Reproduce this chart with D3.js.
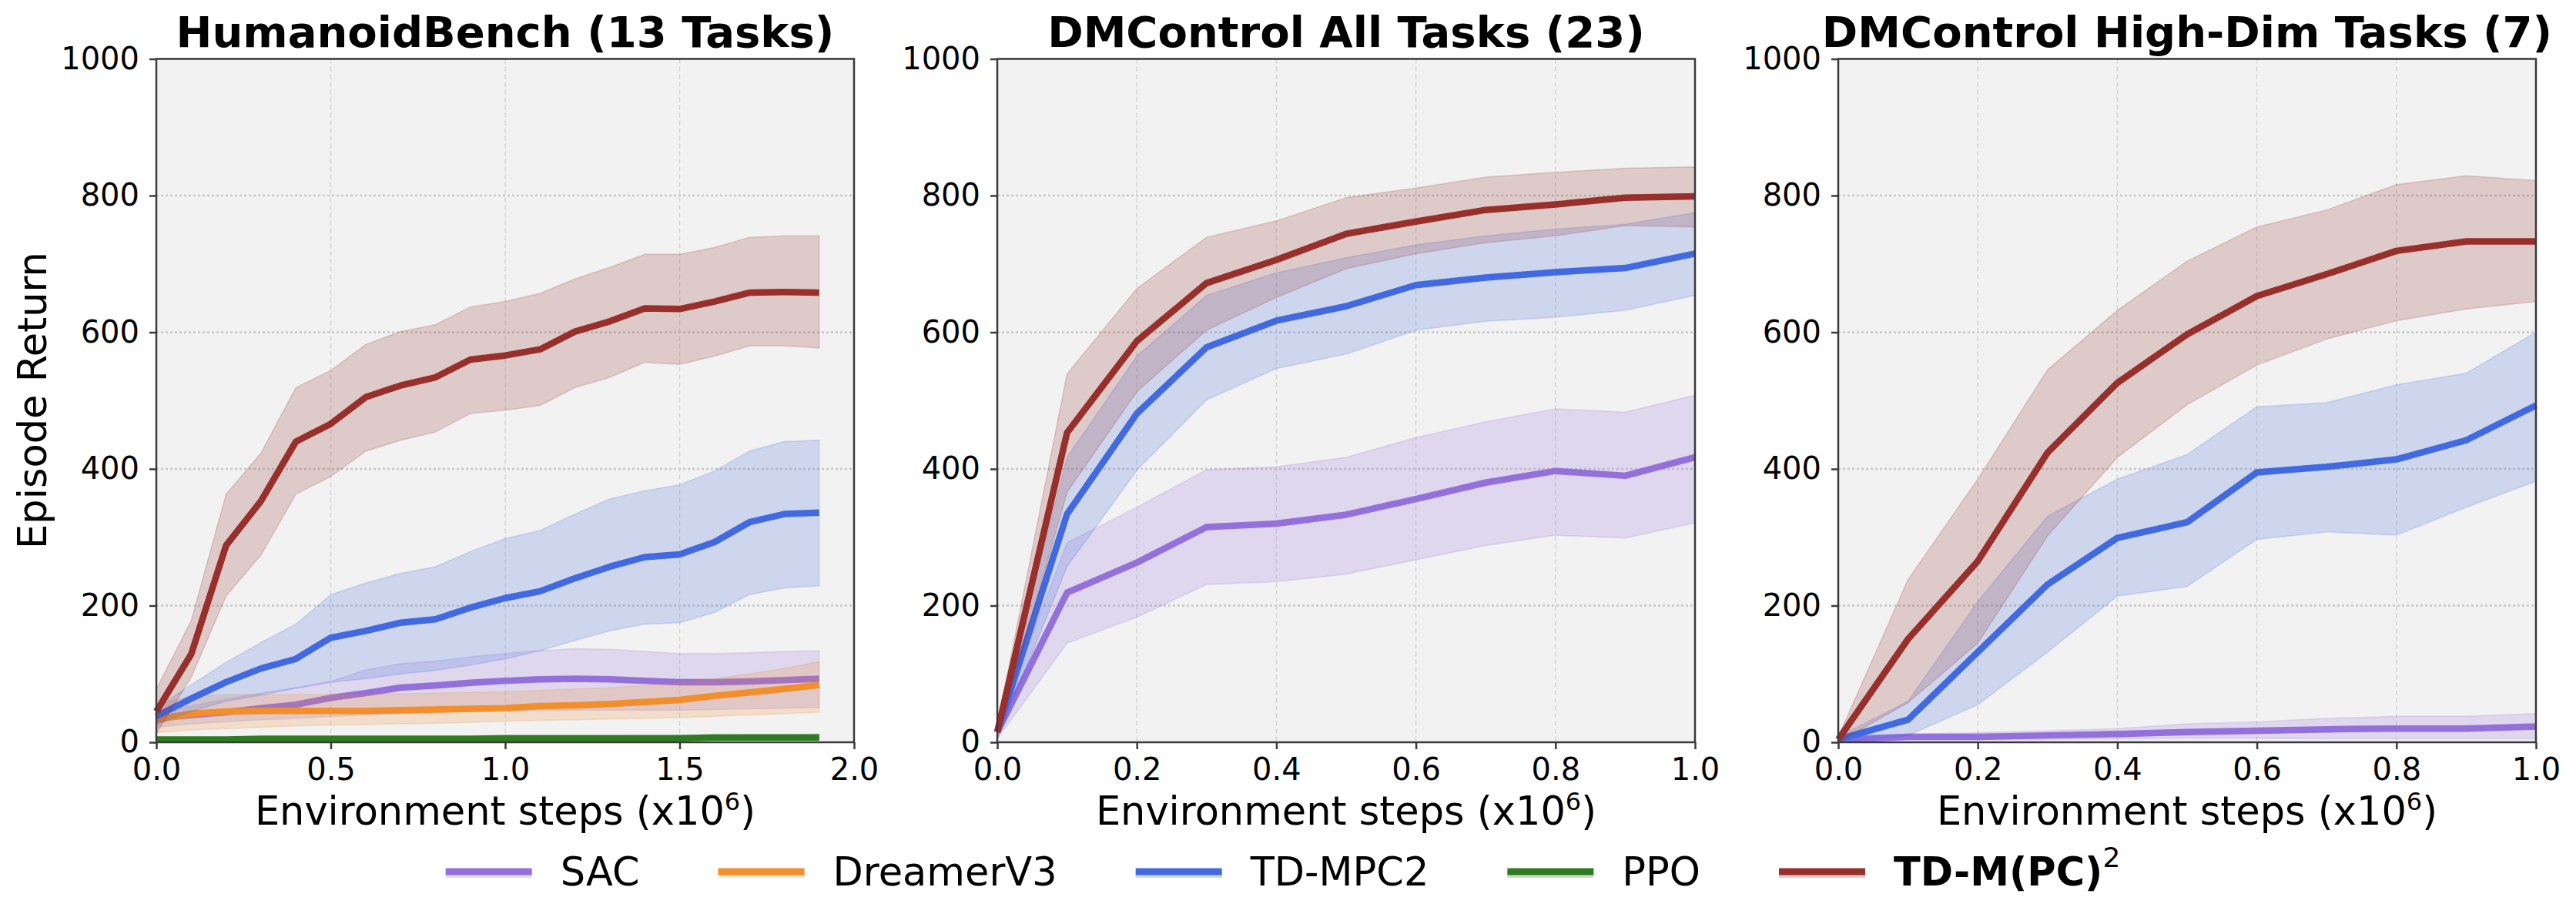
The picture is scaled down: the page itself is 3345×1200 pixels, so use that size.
<!DOCTYPE html>
<html>
<head>
<meta charset="utf-8">
<script src="https://cdn.jsdelivr.net/npm/d3@7"></script>
<style>
body { margin: 0; background: #fff; }
text { font-family: "DejaVu Sans", sans-serif; fill: #000; }
</style>
</head>
<body>
<svg id="chart" width="3345" height="1200"></svg>
<script>
// ---- HumanoidBench (13 tasks) ----
var hbSteps = [0, 0.1, 0.2, 0.3, 0.4, 0.5, 0.6, 0.7, 0.8, 0.9, 1.0, 1.1, 1.2, 1.3, 1.4, 1.5, 1.6, 1.7, 1.8, 1.9];
var hbSac     = [35, 40, 44, 50, 55, 65, 72, 80, 83, 87, 90, 92, 93, 92, 90, 88, 88, 89, 91, 93];
var hbSacHi   = [45, 53, 63, 72, 80, 89, 106, 115, 119, 125, 130, 134, 137, 136, 133, 130, 130, 131, 133, 134];
var hbSacLo   = [22, 27, 30, 33, 35, 38, 40, 42, 44, 45, 46, 47, 47, 47, 47, 47, 48, 49, 50, 51];
var hbDreamer   = [33, 42, 45, 46, 46, 46, 46, 47, 48, 49, 50, 53, 54, 56, 59, 62, 68, 73, 78, 84];
var hbDreamerHi = [55, 68, 70, 70, 70, 70, 70, 71, 72, 73, 74, 76, 78, 80, 83, 87, 93, 100, 108, 118];
var hbDreamerLo = [14, 18, 20, 22, 24, 25, 26, 27, 28, 29, 31, 32, 33, 34, 35, 36, 38, 40, 42, 44];
var hbTdmpc   = [38, 64, 88, 108, 122, 153, 163, 175, 180, 197, 211, 221, 240, 257, 271, 275, 293, 322, 334, 336];
var hbTdmpcHi = [50, 84, 117, 146, 173, 216, 233, 247, 257, 279, 298, 310, 334, 356, 368, 377, 397, 426, 440, 442];
var hbTdmpcLo = [26, 45, 60, 69, 79, 88, 93, 100, 105, 113, 122, 134, 149, 163, 173, 175, 190, 216, 226, 229];
var hbPpo   = [4, 4, 4, 5, 5, 5, 5, 5, 5, 5, 6, 6, 6, 6, 6, 6, 7, 7, 7, 7];
var hbPpoHi = [6, 6, 7, 7, 7, 7, 8, 8, 8, 8, 9, 9, 9, 9, 10, 10, 10, 11, 11, 12];
var hbPpoLo = [2, 2, 2, 2, 2, 3, 3, 3, 3, 3, 3, 3, 3, 3, 3, 3, 4, 4, 4, 4];
var hbOurs   = [45, 129, 288, 353, 440, 466, 505, 522, 534, 560, 566, 575, 601, 616, 635, 634, 645, 658, 659, 658];
var hbOursHi = [78, 178, 363, 423, 519, 544, 582, 601, 611, 637, 645, 657, 678, 695, 714, 714, 724, 739, 741, 741];
var hbOursLo = [13, 95, 214, 274, 363, 389, 426, 442, 454, 481, 486, 493, 519, 534, 556, 553, 565, 580, 580, 577];

// ---- DMControl all tasks (23) ----
var dmSteps = [0, 0.1, 0.2, 0.3, 0.4, 0.5, 0.6, 0.7, 0.8, 0.9, 1.0];
var dmSac     = [15, 219, 263, 315, 320, 333, 356, 380, 397, 390, 417];
var dmSacHi   = [25, 292, 344, 399, 403, 417, 446, 469, 488, 483, 508];
var dmSacLo   = [5, 145, 183, 231, 235, 246, 267, 288, 303, 299, 321];
var dmTdmpc   = [15, 334, 481, 578, 617, 638, 669, 680, 688, 694, 715];
var dmTdmpcHi = [25, 417, 565, 654, 687, 709, 728, 741, 751, 758, 775];
var dmTdmpcLo = [5, 257, 398, 501, 547, 568, 603, 616, 622, 632, 654];
var dmOurs   = [15, 453, 587, 672, 706, 744, 762, 779, 787, 797, 799];
var dmOursHi = [25, 539, 664, 739, 763, 797, 811, 827, 834, 840, 842];
var dmOursLo = [5, 366, 513, 603, 651, 693, 715, 731, 741, 756, 754];

// ---- DMControl high-dim tasks (7) ----
var hdSteps = [0, 0.1, 0.2, 0.3, 0.4, 0.5, 0.6, 0.7, 0.8, 0.9, 1.0];
var hdSac     = [4, 8, 8, 10, 12, 15, 17, 19, 20, 20, 23];
var hdSacHi   = [6, 12, 14, 17, 20, 27, 30, 35, 38, 38, 42];
var hdSacLo   = [0, 4, 4, 4, 5, 6, 6, 5, 5, 5, 5];
var hdTdmpc   = [4, 33, 132, 231, 299, 322, 395, 403, 414, 442, 493];
var hdTdmpcHi = [8, 60, 206, 331, 385, 421, 491, 497, 523, 540, 600];
var hdTdmpcLo = [0, 10, 55, 132, 214, 228, 297, 308, 303, 344, 382];
var hdOurs   = [4, 151, 265, 424, 526, 597, 653, 685, 719, 733, 733];
var hdOursHi = [8, 238, 385, 545, 632, 704, 754, 779, 816, 829, 822];
var hdOursLo = [0, 58, 145, 302, 417, 494, 552, 590, 617, 634, 645];

var yTicks = [0, 200, 400, 600, 800, 1000];
var hbTicks = [0, 0.5, 1.0, 1.5, 2.0];
var dmTicks = [0, 0.2, 0.4, 0.6, 0.8, 1.0];

var methods = ['SAC', 'DreamerV3', 'TD-MPC2', 'PPO', 'TD-M(PC)'];
var colors = {
    'SAC': '#9370DB',
    'DreamerV3': '#F28E2B',
    'TD-MPC2': '#4169E1',
    'PPO': '#2E7B22',
    'TD-M(PC)': '#982F2B'
};

function ser(name, steps, mean, lo, hi) {
    return { name: name, rows: steps.map(function (s, i) {
        return { x: s, m: mean[i], lo: lo[i], hi: hi[i] };
    }) };
}

var panels = [
    { title: 'HumanoidBench (13 Tasks)', xMax: 2.0, ticks: hbTicks, series: [
        ser('SAC', hbSteps, hbSac, hbSacLo, hbSacHi),
        ser('DreamerV3', hbSteps, hbDreamer, hbDreamerLo, hbDreamerHi),
        ser('TD-MPC2', hbSteps, hbTdmpc, hbTdmpcLo, hbTdmpcHi),
        ser('PPO', hbSteps, hbPpo, hbPpoLo, hbPpoHi),
        ser('TD-M(PC)', hbSteps, hbOurs, hbOursLo, hbOursHi)
    ] },
    { title: 'DMControl All Tasks (23)', xMax: 1.0, ticks: dmTicks, series: [
        ser('SAC', dmSteps, dmSac, dmSacLo, dmSacHi),
        ser('TD-MPC2', dmSteps, dmTdmpc, dmTdmpcLo, dmTdmpcHi),
        ser('TD-M(PC)', dmSteps, dmOurs, dmOursLo, dmOursHi)
    ] },
    { title: 'DMControl High-Dim Tasks (7)', xMax: 1.0, ticks: dmTicks, series: [
        ser('SAC', hdSteps, hdSac, hdSacLo, hdSacHi),
        ser('TD-MPC2', hdSteps, hdTdmpc, hdTdmpcLo, hdTdmpcHi),
        ser('TD-M(PC)', hdSteps, hdOurs, hdOursLo, hdOursHi)
    ] }
];

var svg = d3.select('#chart');
svg.append('rect').attr('width', 3345).attr('height', 1200).attr('fill', '#fff');

var lefts = [203, 1295, 2387];
var plotTop = 76.5, W = 906, H = 887.5;

panels.forEach(function (p, i) {
    var g = svg.append('g').attr('transform', 'translate(' + lefts[i] + ',' + plotTop + ')');
    var x = d3.scaleLinear().domain([0, p.xMax]).range([0, W]);
    var y = d3.scaleLinear().domain([0, 1000]).range([H, 0]);

    g.append('rect').attr('width', W).attr('height', H).attr('fill', '#f2f2f2');

    // grid
    g.selectAll('.hgrid').data(yTicks.slice(1, -1)).enter().append('line')
        .attr('x1', 0).attr('x2', W)
        .attr('y1', function (d) { return y(d); }).attr('y2', function (d) { return y(d); })
        .attr('stroke', '#c8c8c8').attr('stroke-width', 2.5).attr('stroke-dasharray', '3,3');
    g.selectAll('.vgrid').data(p.ticks.slice(1, -1)).enter().append('line')
        .attr('y1', 0).attr('y2', H)
        .attr('x1', function (d) { return x(d); }).attr('x2', function (d) { return x(d); })
        .attr('stroke', '#d6d6d6').attr('stroke-width', 1.5).attr('stroke-dasharray', '6,4');

    var area = d3.area()
        .x(function (d) { return x(d.x); })
        .y0(function (d) { return y(d.lo); })
        .y1(function (d) { return y(d.hi); });
    var line = d3.line()
        .x(function (d) { return x(d.x); })
        .y(function (d) { return y(d.m); });

    p.series.forEach(function (s) {
        var c = colors[s.name];
        g.append('path').datum(s.rows).attr('d', area)
            .attr('fill', c).attr('fill-opacity', 0.2)
            .attr('stroke', c).attr('stroke-opacity', 0.2).attr('stroke-width', 1.5);
        g.append('path').datum(s.rows).attr('d', line)
            .attr('fill', 'none').attr('stroke', c).attr('stroke-width', 8.5)
            .attr('stroke-linejoin', 'round').attr('stroke-linecap', 'butt');
    });

    // spines
    g.append('rect').attr('width', W).attr('height', H)
        .attr('fill', 'none').attr('stroke', '#3a3a3a').attr('stroke-width', 2.5);

    var ya = g.append('g').call(d3.axisLeft(y).tickValues(yTicks).tickFormat(d3.format('d')).tickSize(9).tickPadding(13));
    var xa = g.append('g').attr('transform', 'translate(0,' + H + ')')
        .call(d3.axisBottom(x).tickValues(p.ticks).tickFormat(d3.format('.1f')).tickSize(9).tickPadding(12));
    [ya, xa].forEach(function (a) {
        a.select('.domain').remove();
        a.selectAll('line').attr('stroke', '#3a3a3a').attr('stroke-width', 2.5);
        a.selectAll('text').style('font-size', '40px').style('font-family', '"DejaVu Sans", sans-serif').attr('fill', '#000');
    });

    g.append('text').attr('x', W / 2).attr('y', 61 - plotTop)
        .attr('text-anchor', 'middle').style('font-size', '56px').style('font-weight', 'bold')
        .text(p.title);

    var xl = g.append('text').attr('x', W / 2).attr('y', 1071 - plotTop)
        .attr('text-anchor', 'middle').style('font-size', '51px');
    xl.append('tspan').text('Environment steps (x10');
    xl.append('tspan').attr('dy', -19).style('font-size', '32px').text('6');
    xl.append('tspan').attr('dy', 19).text(')');
});

svg.append('text').attr('transform', 'translate(60,520) rotate(-90)')
    .attr('text-anchor', 'middle').style('font-size', '51px').text('Episode Return');

// legend
var leg = svg.append('g');
var hx = 0, handle = 112, pad = 37, gap = 102, ly = 1132, tb = 1150;
methods.forEach(function (m, i) {
    var c = colors[m];
    leg.append('line').attr('x1', hx).attr('x2', hx + handle).attr('y1', ly + 4).attr('y2', ly + 4)
        .attr('stroke', c).attr('stroke-opacity', 0.25).attr('stroke-width', 8);
    leg.append('line').attr('x1', hx).attr('x2', hx + handle).attr('y1', ly).attr('y2', ly)
        .attr('stroke', c).attr('stroke-width', 9);
    var t = leg.append('text').attr('x', hx + handle + pad).attr('y', tb).style('font-size', '51px');
    if (m === 'TD-M(PC)') {
        t.append('tspan').style('font-weight', 'bold').text(m);
        t.append('tspan').attr('dy', -24).style('font-size', '36px').text('2');
    } else {
        t.text(m);
    }
    hx = hx + handle + pad + t.node().getComputedTextLength() + gap;
});
var lw = hx - gap;
leg.attr('transform', 'translate(' + (1666 - lw / 2) + ',0)');
</script>
</body>
</html>
